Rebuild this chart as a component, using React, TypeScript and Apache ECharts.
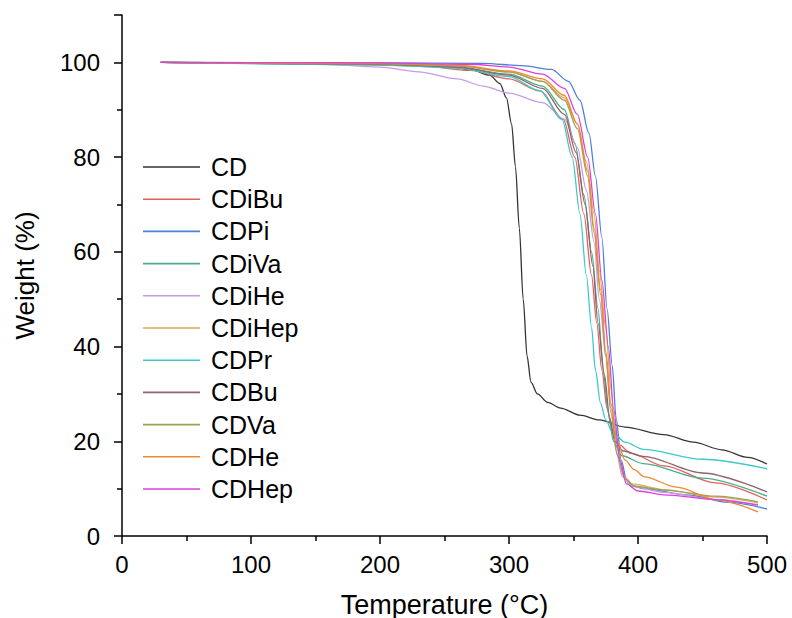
import React, { useEffect, useRef } from "react";
import * as echarts from "echarts";

const seriesNames = ["CD", "CDiBu", "CDPi", "CDiVa", "CDiHe", "CDiHep", "CDPr", "CDBu", "CDVa", "CDHe", "CDHep"];
const seriesColors = ["#333333", "#e06060", "#4f7fd6", "#4cad88", "#c89be6", "#d9ad55", "#3cc9c9", "#8f6468", "#9fa055", "#f0892f", "#dd40dd"];

const CD = [[30,100],[100,99.9],[200,99.6],[250,99.2],[270,98.5],[285,97.3],[293,95.5],[298,92.5],[302,87],[305,78],[308,65],[311,50],[314,38],[317,32.5],[322,30],[330,28.2],[340,27],[355,25.5],[370,24.5],[390,23],[420,21.4],[443,19.8],[465,18.2],[485,16.6],[500,15.2]];
const CDiBu = [[30,100],[150,99.8],[230,99.3],[270,98.3],[300,96.5],[324,94],[342,88],[351,80],[358,68],[364,55],[368,45],[372,35],[376,27],[380,22],[386,19.2],[394,17.5],[420,14.8],[460,11.2],[500,7.6]];
const CDPi = [[30,100],[200,99.9],[280,99.8],[310,99.3],[333,98.5],[346,96],[355,92],[362,85],[367,76],[372,63],[376,48],[380,36],[383,25],[387,16],[391,12],[397,10.5],[404,10],[440,8.6],[470,7.1],[500,5.7]];
const CDiVa = [[30,100],[200,99.5],[260,99],[300,97.5],[326,95],[343,90],[351,83],[358,72],[364,60],[369,48],[373,35],[377,26],[381,20],[387,17],[404,15.3],[450,12.2],[500,8.4]];
const CDiHe = [[30,100],[150,99.7],[200,99],[230,98],[260,96.5],[280,95],[300,93.5],[326,91.5],[343,88],[353,82],[360,73],[366,62],[370,50],[375,38],[379,27],[383,18],[388,12.5],[395,10.5],[420,9.2],[460,7.7],[493,6.6]];
const CDiHep = [[30,100],[200,99.6],[260,99.2],[300,98],[326,96],[343,92.5],[353,87],[360,79],[366,68],[370,56],[375,44],[379,31],[383,20],[388,13],[395,11],[420,9.8],[460,8.2],[493,7.0]];
const CDPr = [[30,100],[200,99.5],[260,98.8],[300,97],[324,94],[341,88],[349,80],[355,68],[360,55],[364,44],[367,35],[371,28],[375,24.5],[380,22],[390,19.8],[404,18.3],[450,16.2],[500,14.2]];
const CDBu = [[30,100],[200,99.6],[260,99],[300,97.3],[326,94.5],[343,89],[352,81],[359,70],[365,57],[369,45],[374,34],[378,25],[382,20],[388,18],[404,16.8],[450,13.3],[500,9.3]];
const CDVa = [[30,100],[200,99.7],[260,99.3],[300,98],[326,96],[343,92],[353,86],[361,76],[366,64],[371,51],[375,38],[379,26],[384,17],[390,12],[397,10.5],[420,9.7],[460,8.4],[493,7.2]];
const CDHe = [[30,100],[200,99.8],[260,99.4],[300,98.2],[326,96.5],[343,93],[353,87],[361,77],[366,65],[371,52],[375,39],[379,28],[384,20],[390,16],[397,14],[405,12.5],[430,10.3],[460,7.7],[493,5.1]];
const CDHep = [[30,100],[200,99.9],[270,99.6],[300,99],[326,97.5],[343,94.5],[353,89],[361,80],[367,68],[372,54],[377,40],[381,27],[386,16],[391,11],[400,9.5],[420,8.7],[460,7.7],[493,6.5]];

const seriesData = [CD, CDiBu, CDPi, CDiVa, CDiHe, CDiHep, CDPr, CDBu, CDVa, CDHe, CDHep];

const FONT = "Liberation Sans, Arial, sans-serif";
const LINE_ICON = "path://M0,0 L0.01,0 M0,6.2 L57,6.2 L57,7.8 L0,7.8 Z M0,14 L0.01,14";

export default function App() {
  const ref = useRef<HTMLDivElement>(null);
  useEffect(() => {
    if (!ref.current) return;
    const chart = echarts.init(ref.current, undefined, { renderer: "svg" });
    const axisLine = { show: true, lineStyle: { color: "#000", width: 1.5 } };
    chart.setOption({
      animation: false,
      backgroundColor: "#fff",
      grid: { left: 122, right: 25, top: 15, bottom: 82, outerBoundsMode: "none", containLabel: false },
      legend: {
        orient: "vertical",
        left: 138,
        top: 149,
        itemWidth: 57,
        itemHeight: 14,
        itemGap: 6.2,
        icon: LINE_ICON,
        data: seriesNames.map((n, i) => ({ name: n, icon: LINE_ICON, itemStyle: { color: seriesColors[i], borderWidth: 0 } })),
        textStyle: { fontFamily: FONT, fontSize: 25, color: "#000", padding: [0, 0, 0, 6], lineHeight: 26 },
      },
      xAxis: {
        type: "value",
        min: 0,
        max: 500,
        interval: 100,
        name: "Temperature (°C)",
        nameLocation: "middle",
        nameGap: 55,
        nameTextStyle: { fontFamily: FONT, fontSize: 27, color: "#000" },
        axisLine,
        axisTick: { show: true, inside: false, length: 8, lineStyle: { color: "#000", width: 1.5 } },
        minorTick: { show: true, splitNumber: 2, length: 5, lineStyle: { color: "#000", width: 1.5 } },
        splitLine: { show: false },
        axisLabel: { fontFamily: FONT, fontSize: 24, color: "#000", margin: 16 },
      },
      yAxis: {
        type: "value",
        min: 0,
        max: 110,
        interval: 20,
        name: "Weight (%)",
        nameLocation: "middle",
        nameGap: 84,
        nameTextStyle: { fontFamily: FONT, fontSize: 26, color: "#000" },
        axisLine,
        axisTick: { show: true, inside: false, length: 8, lineStyle: { color: "#000", width: 1.5 } },
        minorTick: { show: true, splitNumber: 2, length: 5, lineStyle: { color: "#000", width: 1.5 } },
        splitLine: { show: false },
        axisLabel: {
          fontFamily: FONT,
          fontSize: 24,
          color: "#000",
          margin: 22,
          formatter: (v: number) => (v > 100 ? "" : String(v)),
        },
      },
      series: seriesNames.map((n, i) => ({
        name: n,
        type: "line",
        data: seriesData[i],
        showSymbol: false,
        symbol: "none",
        smooth: 0.3,
        smoothMonotone: "x",
        lineStyle: { color: seriesColors[i], width: 1.3 },
        itemStyle: { color: seriesColors[i] },
      })),
    });
    return () => chart.dispose();
  }, []);
  return <div ref={ref} style={{ position: "fixed", left: 0, top: 0, width: 792, height: 618 }} />;
}
